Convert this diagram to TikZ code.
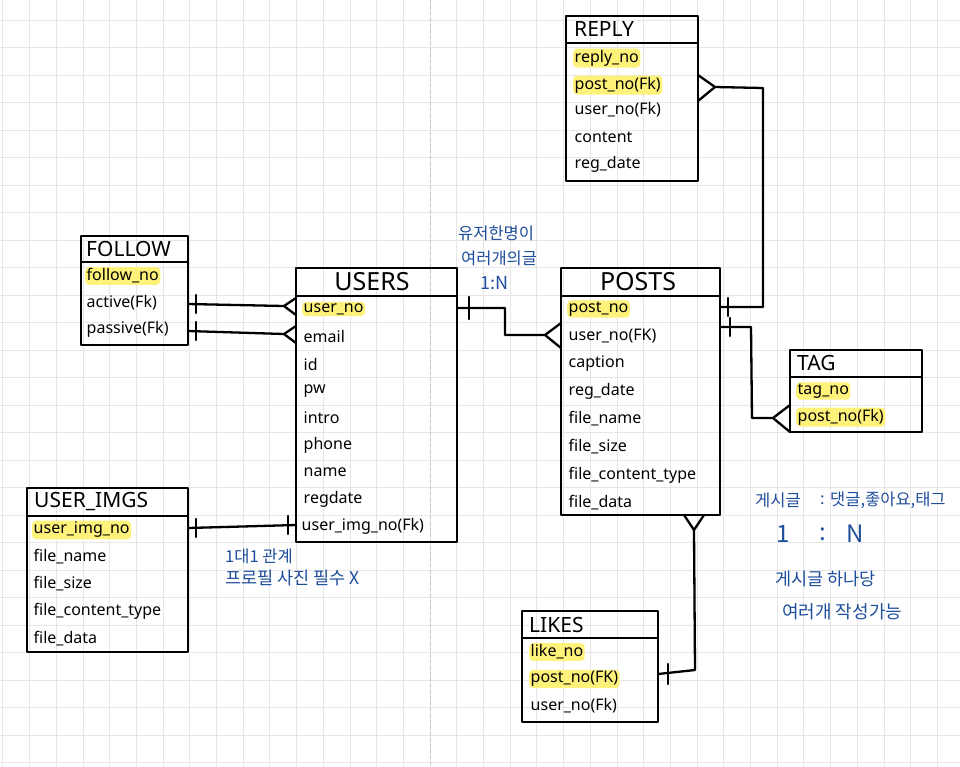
\documentclass[tikz,border=0pt]{standalone}
\usepackage{fontspec}
\setmainfont{Noto Sans}
\newfontfamily\kr{Noto Sans CJK KR}
\usetikzlibrary{calc}
\definecolor{hlyel}{HTML}{FFF27A}
\definecolor{notec}{HTML}{1F4E9C}
\definecolor{gridc}{HTML}{E6E6E6}
\begin{document}
\begin{tikzpicture}[x=1pt,y=-1pt,line join=round,line cap=round,
  tbl/.style={draw,line width=2.4pt,inner sep=0pt,fill=none},
  conn/.style={line width=2.3pt},
  row/.style={anchor=west,inner sep=1.5pt,font=\fontsize{16}{17}\selectfont},
  hl/.style={row,fill=hlyel,rounded corners=4pt},
  ttl/.style={anchor=west,inner sep=0pt,font=\fontsize{21}{21}\selectfont},
  bigttl/.style={inner sep=0pt,font=\fontsize{25}{25}\selectfont},
  notetxt/.style={anchor=west,inner sep=0pt,text=notec,font=\kr\fontsize{16.5}{17}\selectfont}]
\useasboundingbox[fill=white] (0,0) rectangle (960,766);
% grid
\foreach \i in {-16,...,19} \draw[gridc,line width=0.8pt] ({430+26.7*\i},0) -- ({430+26.7*\i},766);
\foreach \j in {0,...,27} \draw[gridc,line width=0.8pt] (0,{20+27.5*\j}) -- (960,{20+27.5*\j});
\draw[gray!45,dashed,line width=0.8pt] (430,0) -- (430,766);

% ---------- REPLY
\node[tbl,minimum width=132pt,minimum height=165pt] (reply) at (632,98.5) {};
\draw[conn] (566,43) -- (698,43);
\node[ttl] (replyt) at (574,29) {REPLY};
\node[hl] (rp1) at (573,58) {reply\_no};
\node[hl] (rp2) at (573,85) {post\_no(Fk)};
\node[row] (rp3) at (573,110) {user\_no(Fk)};
\node[row] (rp4) at (573,137) {content};
\node[row] (rp5) at (573,164) {reg\_date};

% ---------- FOLLOW
\node[tbl,minimum width=107pt,minimum height=109pt] (follow) at (134.5,290.5) {};
\draw[conn] (81,262) -- (188,262);
\node[ttl] (followt) at (86,249) {FOLLOW};
\node[hl] (fo1) at (85,276) {follow\_no};
\node[row] (fo2) at (85,303) {active(Fk)};
\node[row] (fo3) at (85,329) {passive(Fk)};

% ---------- USERS
\node[tbl,minimum width=161pt,minimum height=274pt] (users) at (376.5,405) {};
\draw[conn] (296,296) -- (457,296);
\node[bigttl] (userst) at (372,282) {USERS};
\node[hl] (us1) at (302,309) {user\_no};
\node[row] (us2) at (302,336) {email};
\node[row] (us3) at (302,364) {id};
\node[row] (us4) at (302,391) {pw};
\node[row] (us5) at (302,418) {intro};
\node[row] (us6) at (302,445) {phone};
\node[row] (us7) at (302,472) {name};
\node[row] (us8) at (302,499) {regdate};
\node[row] (us9) at (300,526) {user\_img\_no(Fk)};

% ---------- POSTS
\node[tbl,minimum width=159pt,minimum height=247pt] (posts) at (640.5,391.5) {};
\draw[conn] (561,296) -- (720,296);
\node[bigttl] (postst) at (638,282) {POSTS};
\node[hl] (po1) at (567,309) {post\_no};
\node[row] (po2) at (567,336) {user\_no(FK)};
\node[row] (po3) at (567,364) {caption};
\node[row] (po4) at (567,391) {reg\_date};
\node[row] (po5) at (567,419) {file\_name};
\node[row] (po6) at (567,447) {file\_size};
\node[row] (po7) at (567,475) {file\_content\_type};
\node[row] (po8) at (567,503) {file\_data};

% ---------- TAG
\node[tbl,minimum width=132pt,minimum height=82pt] (tag) at (856,391) {};
\draw[conn] (790,377) -- (922,377);
\node[ttl] (tagt) at (797,363) {TAG};
\node[hl] (ta1) at (796,391) {tag\_no};
\node[hl] (ta2) at (796,417) {post\_no(Fk)};

% ---------- LIKES
\node[tbl,minimum width=136pt,minimum height=111pt] (likes) at (590,666.5) {};
\draw[conn] (522,638) -- (658,638);
\node[ttl] (likest) at (529,625) {LIKES};
\node[hl] (li1) at (529,652) {like\_no};
\node[hl] (li2) at (529,679) {post\_no(FK)};
\node[row] (li3) at (529,706) {user\_no(Fk)};

% ---------- USER_IMGS
\node[tbl,minimum width=161pt,minimum height=164pt] (imgs) at (107.5,570) {};
\draw[conn] (27,516) -- (188,516);
\node[ttl] (imgst) at (34,502) {USER\_IMGS};
\node[hl] (im1) at (32,530) {user\_img\_no};
\node[row] (im2) at (32,557) {file\_name};
\node[row] (im3) at (32,584) {file\_size};
\node[row] (im4) at (32,611) {file\_content\_type};
\node[row] (im5) at (32,639) {file\_data};

% ---------- connectors
% FOLLOW.active -- USERS.user_no
\coordinate (fa) at (188,304);
\coordinate (fav) at (284,306);
\coordinate (fa1) at (296,298);
\coordinate (fa2) at (296,315);
\draw[conn] (fa) -- (fav) (fa1) -- (fav) -- (fa2);
\draw[conn] (fa) ++(8,-9) -- ++(0,18);
% FOLLOW.passive -- USERS.email
\coordinate (fp) at (188,331);
\coordinate (fpv) at (284,334);
\coordinate (fp1) at (296,326);
\coordinate (fp2) at (296,343);
\draw[conn] (fp) -- (fpv) (fp1) -- (fpv) -- (fp2);
\draw[conn] (fp) ++(8,-9) -- ++(0,18);
% USERS -- POSTS
\coordinate (up) at (457,308);
\coordinate (upb) at (505,308);
\coordinate (upc) at (505,335);
\coordinate (upv) at (545,335);
\coordinate (up1) at (561,323);
\coordinate (up2) at (561,348);
\draw[conn] (up) -- (upb) -- (upc) -- (upv) (up1) -- (upv) -- (up2);
\draw[conn] (up) ++(12,-11) -- ++(0,22);
% REPLY -- POSTS
\coordinate (rp) at (720,307);
\coordinate (rpb) at (763,307);
\coordinate (rpc) at (763,88);
\coordinate (rpv) at (715,87);
\coordinate (rp1) at (698,75);
\coordinate (rp2) at (698,101);
\draw[conn] (rp) -- (rpb) -- (rpc) -- (rpv) (rp1) -- (rpv) -- (rp2);
\draw[conn] (rp) ++(8,-9) -- ++(0,18);
% POSTS -- TAG
\coordinate (pt) at (720,327);
\coordinate (ptb) at (751,327);
\coordinate (ptc) at (752,418);
\coordinate (ptv) at (773,418);
\coordinate (pt1) at (790,405);
\coordinate (pt2) at (790,432);
\draw[conn] (pt) -- (ptb) -- (ptc) -- (ptv) (pt1) -- (ptv) -- (pt2);
\draw[conn] (pt) ++(10,-9) -- ++(0,18);
% POSTS -- LIKES
\coordinate (pl1) at (684,515);
\coordinate (pl2) at (704,515);
\coordinate (plv) at (694,530);
\coordinate (plb) at (695,670);
\coordinate (pl) at (658,674);
\draw[conn] (pl1) -- (plv) -- (pl2) (plv) -- (plb) -- (pl);
\draw[conn] (pl) ++(10,-10) -- ++(0,20);
% USER_IMGS -- USERS
\coordinate (iu) at (188,528);
\coordinate (ui) at (296,525);
\draw[conn] (iu) -- (ui);
\draw[conn] (iu) ++(8,-9) -- ++(0,18);
\draw[conn] (ui) ++(-8,-9) -- ++(0,18);

% ---------- notes
\node[notetxt] (n1) at (458,233) {유저한명이};
\node[notetxt] (n2) at (461,258) {여러개의글};
\node[notetxt,font=\kr\fontsize{18}{18}\selectfont] (n3) at (480,283) {1:N};
\node[notetxt] (n4) at (225,556) {1대1 관계};
\node[notetxt,font=\kr\fontsize{17.5}{18}\selectfont] (n5) at (225,578) {프로필 사진 필수 X};
\node[notetxt] (n6) at (755,500) {게시글};
\node[notetxt] (n6b) at (820,500) {:};
\node[notetxt] (n6c) at (830,500) {댓글,좋아요,태그};
\node[notetxt,font=\kr\fontsize{24}{24}\selectfont] (n7a) at (776,534) {1};
\node[notetxt,font=\kr\fontsize{24}{24}\selectfont] (n7b) at (819,534) {:};
\node[notetxt,font=\kr\fontsize{24}{24}\selectfont] (n7c) at (846,534) {N};
\node[notetxt,font=\kr\fontsize{17.5}{18}\selectfont] (n8) at (775,579) {게시글 하나당};
\node[notetxt,font=\kr\fontsize{18}{18}\selectfont] (n9) at (782,612) {여러개 작성가능};
\end{tikzpicture}
\end{document}
